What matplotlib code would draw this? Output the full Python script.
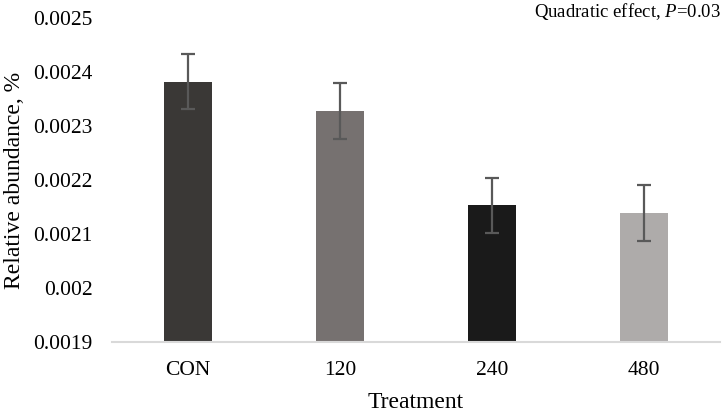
import numpy as np
import matplotlib.pyplot as plt

plt.rcParams['font.family'] = ['Liberation Serif', 'DejaVu Serif']
plt.rcParams['mathtext.fontset'] = 'custom'
plt.rcParams['mathtext.rm'] = 'Liberation Serif'
plt.rcParams['mathtext.it'] = 'Liberation Serif:italic'

treatments = ["CON", "120", "240", "480"]
abundance = [0.002382, 0.002328, 0.002153, 0.002139]
sem = [0.000051, 0.000052, 0.000051, 0.000052]
colors = ["#3a3836", "#767170", "#1a1a1a", "#aeabaa"]
yticks = [0.0019, 0.002, 0.0021, 0.0022, 0.0023, 0.0024, 0.0025]
ytick_labels = ["0.0019", "0.002", "0.0021", "0.0022", "0.0023", "0.0024", "0.0025"]

fig = plt.figure(figsize=(7.27, 4.17), dpi=100)
ax = fig.add_axes([112 / 727, 1 - 342 / 417, 608 / 727, 324 / 417])

x = np.arange(len(treatments))
ax.bar(x, np.array(abundance) - 0.0019, bottom=0.0019, width=0.316, color=colors, zorder=2)
ax.errorbar(x, abundance, yerr=sem, fmt="none", ecolor="#595959", elinewidth=1.6,
            capsize=5, capthick=1.6, zorder=3)

ax.set_xlim(-0.5, 3.5)
ax.set_ylim(0.0019, 0.0025)
ax.set_yticks(yticks)
ax.set_yticklabels(ytick_labels, fontsize=15.5)
ax.set_xticks(x)
ax.set_xticklabels(treatments, fontsize=15.5)
ax.tick_params(axis="x", length=0, pad=14)
ax.tick_params(axis="y", length=0, pad=14)

for s in ["top", "right", "left"]:
    ax.spines[s].set_visible(False)
ax.spines["bottom"].set_color("#d9d9d9")
ax.spines["bottom"].set_linewidth(1.5)

ax.set_xlabel("Treatment", fontsize=17)
ax.set_ylabel("Relative abundance, %", fontsize=17)
# label positions in axes fraction, taken from pixel positions
ax.xaxis.set_label_coords((416 - 112) / 608, -(403 - 342) / 324)
ax.yaxis.set_label_coords(-(112 - 15) / 608, (342 - 180) / 324)
ax.xaxis.label.set_va("center")
ax.yaxis.label.set_va("center")

fig.text(721 / 727, 1 - 12 / 417, "Quadratic effect, $\\it{P}$=0.03", ha="right", va="center",
         fontsize=13.5)

fig.savefig("out.png", dpi=100)
